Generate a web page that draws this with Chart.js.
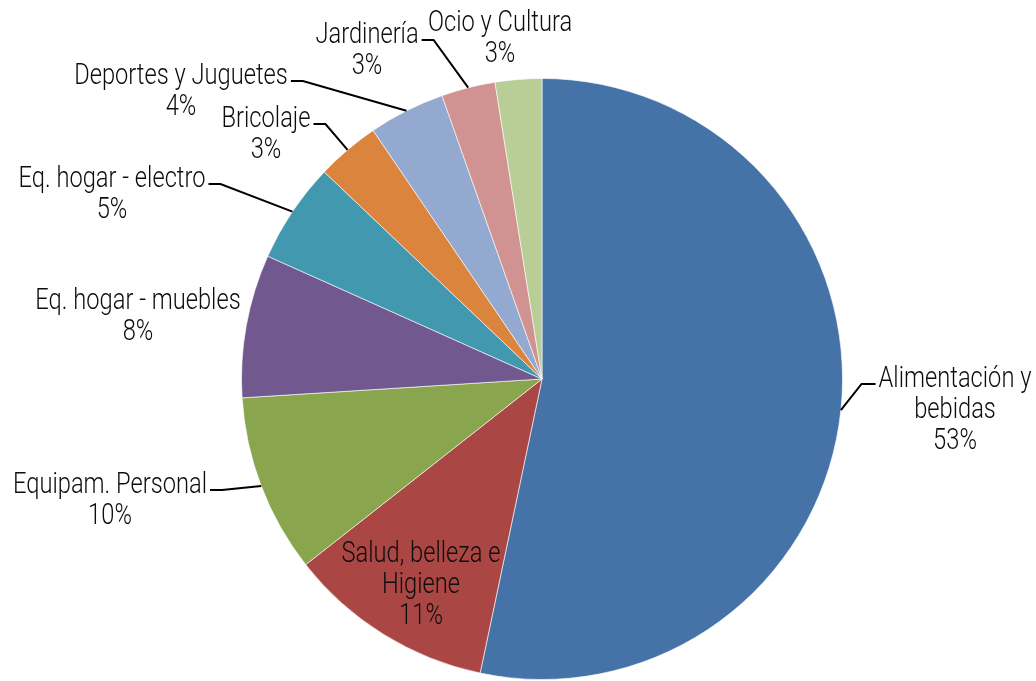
<!DOCTYPE html>
<html>
<head>
<meta charset="utf-8">
<script src="https://cdn.jsdelivr.net/npm/chart.js@4"></script>
<style>
  html, body { margin: 0; padding: 0; background: #fff; }
  #wrap { width: 1036px; height: 681px; position: relative; }
</style>
</head>
<body>
<div id="wrap"><canvas id="pieChart"></canvas></div>
<script>
const categories = [
    ['Alimentación y', 'bebidas'],
    ['Salud, belleza e', 'Higiene'],
    ['Equipam. Personal'],
    ['Eq. hogar - muebles'],
    ['Eq. hogar - electro'],
    ['Bricolaje'],
    ['Deportes y Juguetes'],
    ['Jardinería'],
    ['Ocio y Cultura']
];
const shares = [53.3, 11.1, 9.6, 7.7, 5.4, 3.4, 4.1, 2.9, 2.5];
const colors = ['#4572A7', '#AA4643', '#89A54E', '#71588F', '#4198AF', '#DB843D', '#93A9CF', '#D19392', '#B9CD96'];

// label block placement: center x, baseline of the first line, side the leader leaves from
const labelSpots = [
    { x: 955, y: 387, side: 'right' },
    { x: 421, y: 562, side: null },
    { x: 110, y: 493, side: 'left' },
    { x: 138, y: 309, side: null },
    { x: 112, y: 187, side: 'left' },
    { x: 266, y: 127, side: 'left' },
    { x: 181, y: 84, side: 'left' },
    { x: 367, y: 43, side: 'left' },
    { x: 500, y: 31, side: null }
];

const FONT = '300 30px Roboto, "DejaVu Sans", sans-serif';
const LINE_H = 31;
const REF_TEXT = 'Eq. hogar - electro';
const REF_WIDTH = 187;

const pieLabels = {
    id: 'pieLabels',
    afterDatasetsDraw(chart) {
        const ctx = chart.ctx;
        const arcs = chart.getDatasetMeta(0).data;
        ctx.save();
        ctx.font = FONT;
        // squeeze the face horizontally for a condensed look
        const sx = REF_WIDTH / ctx.measureText(REF_TEXT).width;
        ctx.fillStyle = '#0d0d0d';
        ctx.textAlign = 'center';
        ctx.textBaseline = 'alphabetic';
        arcs.forEach(function(arc, i) {
            const spot = labelSpots[i];
            const lines = categories[i].concat([Math.round(shares[i]) + '%']);
            lines.forEach(function(t, k) {
                ctx.save();
                ctx.translate(spot.x, spot.y + k * LINE_H);
                ctx.scale(sx, 1);
                ctx.fillText(t, 0, 0);
                ctx.restore();
            });
            if (!spot.side) return;
            const mid = (arc.startAngle + arc.endAngle) / 2;
            const ax = arc.x + arc.outerRadius * Math.cos(mid);
            const ay = arc.y + arc.outerRadius * Math.sin(mid);
            const w = ctx.measureText(lines[0]).width * sx;
            const ly = spot.y - 3;
            let x0, x1;
            if (spot.side === 'left') {
                x0 = spot.x + w / 2 + 3;
                x1 = x0 + 12;
            } else {
                x0 = spot.x - w / 2 - 3;
                x1 = x0 - 14;
            }
            ctx.beginPath();
            ctx.strokeStyle = '#000';
            ctx.lineWidth = 2;
            ctx.moveTo(x0, ly);
            ctx.lineTo(x1, ly);
            ctx.lineTo(ax, ay);
            ctx.stroke();
        });
        ctx.restore();
    }
};

const ctxPie = document.getElementById('pieChart').getContext('2d');
const pieChart = new Chart(ctxPie, {
    type: 'pie',
    data: {
        labels: categories.map(function(c) { return c.join(' '); }),
        datasets: [{
            data: shares,
            backgroundColor: colors,
            borderColor: 'rgba(255, 255, 255, 0.6)',
            borderWidth: 1
        }]
    },
    options: {
        responsive: true,
        maintainAspectRatio: false,
        animation: false,
        layout: {
            padding: { left: 241, right: 193, top: 78, bottom: 1 }
        },
        plugins: {
            legend: { display: false },
            tooltip: { enabled: false }
        }
    },
    plugins: [pieLabels]
});
</script>
</body>
</html>
